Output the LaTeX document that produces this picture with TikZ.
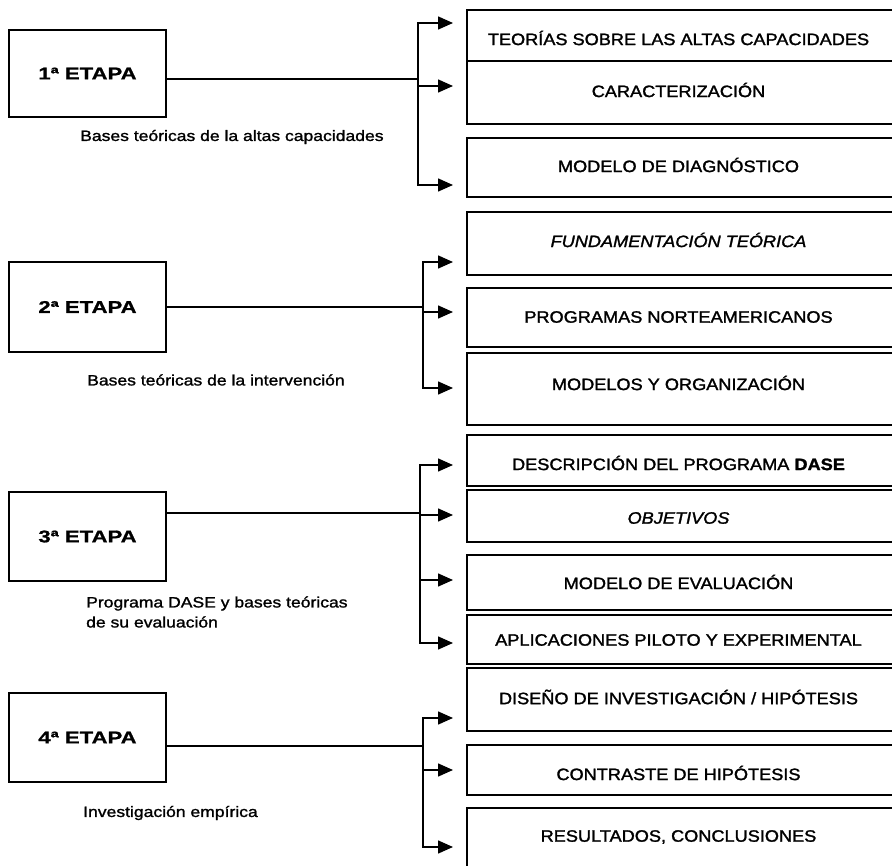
\documentclass[tikz,border=0pt]{standalone}
\usepackage{fontspec}
\setmainfont{Liberation Sans}
\newfontfamily\etapafont{Liberation Sans Bold}[FakeStretch=1.3, FakeBold=1]
\newfontfamily\partfont{Liberation Sans}[FakeStretch=1.1, FakeBold=1.6,
  BoldFont={Liberation Sans Bold}, BoldFeatures={FakeStretch=1.1}]
\newfontfamily\descfont{Liberation Sans}[FakeStretch=1.17, FakeBold=1.4]
\usetikzlibrary{arrows.meta}

% one content box of the right-hand column: name, top, bottom, text y, text
\newcommand\contentbox[5]{%
  \pgfmathsetmacro\boxh{#3-#2}%
  \pgfmathsetmacro\boxc{(#2+#3)/2}%
  \node[partbox, minimum height=\boxh pt] (#1) at (681.5,\boxc) {};
  \node[parttext] (#1-t) at (678.5,#4) {#5};
}

\begin{document}
\begin{tikzpicture}[x=1pt,y=-1pt,
  stagebox/.style={draw, line width=1.6pt, minimum width=157pt, inner sep=0pt,
    font=\etapafont\fontsize{17}{20}\selectfont},
  partbox/.style={draw, line width=1.6pt, minimum width=429pt, inner sep=0pt},
  parttext/.style={font=\partfont\fontsize{16.5}{20}\selectfont, inner sep=0pt},
  desc/.style={font=\descfont\fontsize{15}{20}\selectfont, anchor=west,
    align=left, inner sep=0pt},
  link/.style={line width=1.5pt},
  branch/.style={line width=1.5pt, -{Triangle[length=15pt,width=13pt]}},
]
\useasboundingbox (0,0) rectangle (892,866);

% ---------- stages ----------
\node[stagebox, minimum height=87pt] (s1) at (87.5,73.5) {1ª ETAPA};
\node[stagebox, minimum height=90pt] (s2) at (87.5,307) {2ª ETAPA};
\node[stagebox, minimum height=89pt] (s3) at (87.5,536.5) {3ª ETAPA};
\node[stagebox, minimum height=89pt] (s4) at (87.5,737.5) {4ª ETAPA};

\node[desc] (d1) at (80,137) {Bases teóricas de la altas capacidades};
\node[desc] (d2) at (87,380) {Bases teóricas de la intervención};
\node[desc] (d3) at (86,612) {Programa DASE y bases teóricas\\de su evaluación};
\node[desc] (d4) at (83,813) {Investigación empírica};

% ---------- content boxes ----------
\contentbox{p1a}{10}{61}{38}{TEORÍAS SOBRE LAS ALTAS CAPACIDADES}
\contentbox{p1b}{61}{124}{90}{CARACTERIZACIÓN}
\contentbox{p1c}{138}{197}{165}{MODELO DE DIAGNÓSTICO}

\contentbox{p2a}{212}{275}{240}{\itshape FUNDAMENTACIÓN TEÓRICA}
\contentbox{p2b}{288}{347}{317}{PROGRAMAS NORTEAMERICANOS}
\contentbox{p2c}{353}{425}{383}{MODELOS Y ORGANIZACIÓN}

\contentbox{p3a}{435}{486}{463}{DESCRIPCIÓN DEL PROGRAMA {\bfseries DASE}}
\contentbox{p3b}{490}{542}{518}{\itshape OBJETIVOS}
\contentbox{p3c}{555}{610}{582}{MODELO DE EVALUACIÓN}
\contentbox{p3d}{615}{664}{640}{APLICACIONES PILOTO Y EXPERIMENTAL}

\contentbox{p4a}{668}{731}{697}{DISEÑO DE INVESTIGACIÓN / HIPÓTESIS}
\contentbox{p4b}{745}{795}{773}{CONTRASTE DE HIPÓTESIS}
\contentbox{p4c}{808}{875}{837}{RESULTADOS, CONCLUSIONES}

% ---------- branch points and arrow ends ----------
\coordinate (b1) at (418,79);
\coordinate (e1a) at (453,23);
\coordinate (e1b) at (453,86);
\coordinate (e1c) at (453,185);

\coordinate (b2) at (423,307);
\coordinate (e2a) at (453,262);
\coordinate (e2b) at (453,312);
\coordinate (e2c) at (453,388);

\coordinate (b3) at (420,513);
\coordinate (e3a) at (453,465);
\coordinate (e3b) at (453,515);
\coordinate (e3c) at (453,580);
\coordinate (e3d) at (453,643);

\coordinate (b4) at (423,746);
\coordinate (e4a) at (453,718);
\coordinate (e4b) at (453,770);
\coordinate (e4c) at (453,847);

% ---------- connectors ----------
\draw[link] (s1.east |- b1) -- (b1);
\draw[branch] (b1) |- (e1a);
\draw[branch] (b1) |- (e1b);
\draw[branch] (b1) |- (e1c);

\draw[link] (s2.east |- b2) -- (b2);
\draw[branch] (b2) |- (e2a);
\draw[branch] (b2) |- (e2b);
\draw[branch] (b2) |- (e2c);

\draw[link] (s3.east |- b3) -- (b3);
\draw[branch] (b3) |- (e3a);
\draw[branch] (b3) |- (e3b);
\draw[branch] (b3) |- (e3c);
\draw[branch] (b3) |- (e3d);

\draw[link] (s4.east |- b4) -- (b4);
\draw[branch] (b4) |- (e4a);
\draw[branch] (b4) |- (e4b);
\draw[branch] (b4) |- (e4c);
\end{tikzpicture}
\end{document}
